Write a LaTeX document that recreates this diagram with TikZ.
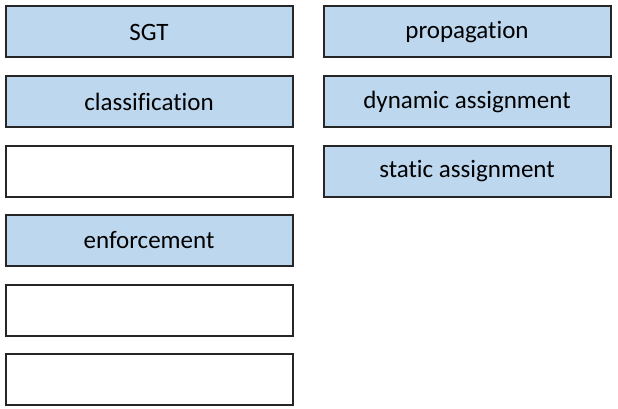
\documentclass[tikz,border=0pt]{standalone}
\usepackage{fontspec}
\setmainfont{Carlito}[Ligatures={NoCommon}]
\definecolor{boxblue}{HTML}{BDD7EE}
\begin{document}
\begin{tikzpicture}
[x=1pt,y=-1pt,
full/.style={rectangle,draw=black!85,fill=boxblue,line width=2pt,minimum width=287pt,minimum height=51pt,inner sep=0pt,font=\fontsize{25}{30}\selectfont},
empty/.style={full,fill=white}]
\useasboundingbox (0,0) rectangle (618,409);
\node at (149,32) [full] (sgt) {SGT};
\node at (149,102) [full] (class) {classification};
\node at (149,171) [empty] (blanka) {};
\node at (149,240) [full] (enf) {enforcement};
\node at (149,310) [empty] (blankb) {};
\node at (149,379) [empty] (blankc) {};
\node at (467,32) [full] (prop) {propagation};
\node at (467,102) [full] (dyn) {dynamic assignment};
\node at (467,171) [full] (stat) {static assignment};
\end{tikzpicture}
\end{document}
